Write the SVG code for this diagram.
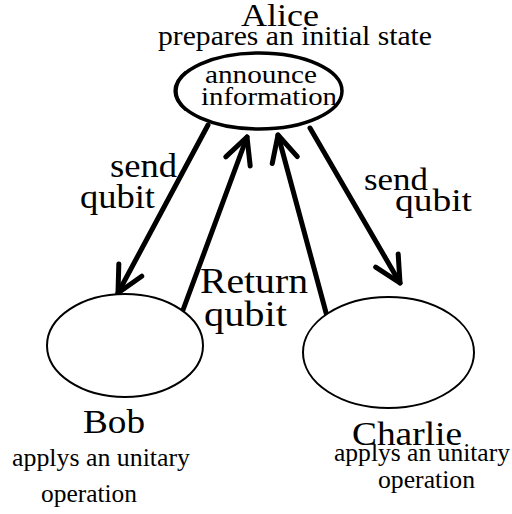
<svg xmlns="http://www.w3.org/2000/svg" width="512" height="514" viewBox="0 0 512 514">
  <style>
    text { font-family: "Liberation Serif", "Times New Roman", serif; fill: #000; }
    .node { fill: #fff; stroke: #000; }
    .conn { stroke: #000; stroke-width: 5; stroke-linecap: round; fill: none; marker-end: url(#head); }
  </style>
  <defs>
    <marker id="head" markerUnits="userSpaceOnUse" orient="auto" refX="0" refY="0" markerWidth="40" markerHeight="40" viewBox="-30 -20 40 40" overflow="visible">
      <path d="M-26,-13 L0,0 L-26,13" fill="none" stroke="#000" stroke-width="5" stroke-linecap="round" stroke-linejoin="round"/>
    </marker>
  </defs>
  <rect width="512" height="514" fill="#fff"/>

  <g id="connectors">
    <line class="conn" x1="208" y1="125" x2="118" y2="293"/>
    <line class="conn" x1="183" y1="310" x2="247" y2="137"/>
    <line class="conn" x1="328" y1="320" x2="278" y2="135"/>
    <line class="conn" x1="310" y1="128" x2="400" y2="283"/>
  </g>

  <g id="connector-labels">
    <text x="110" y="177" font-size="33" textLength="67" lengthAdjust="spacingAndGlyphs">send</text>
    <text x="80" y="208" font-size="33" textLength="75" lengthAdjust="spacingAndGlyphs">qubit</text>
    <text x="200" y="293" font-size="35" textLength="108" lengthAdjust="spacingAndGlyphs">Return</text>
    <text x="204" y="326" font-size="35" textLength="83" lengthAdjust="spacingAndGlyphs">qubit</text>
    <text x="364" y="190" font-size="32" textLength="64" lengthAdjust="spacingAndGlyphs">send</text>
    <text x="395" y="211" font-size="32" textLength="77" lengthAdjust="spacingAndGlyphs">qubit</text>
  </g>

  <g id="alice">
    <text x="241" y="26" font-size="32" textLength="78" lengthAdjust="spacingAndGlyphs">Alice</text>
    <text x="158" y="45" font-size="27" textLength="274" lengthAdjust="spacingAndGlyphs">prepares an initial state</text>
    <ellipse class="node" cx="259" cy="91" rx="83" ry="38" stroke-width="3.5"/>
    <path d="M186,72 A83,38 0 0 0 186,110" fill="none" stroke="#000" stroke-width="3"/>
    <text x="205" y="83" font-size="26" textLength="112" lengthAdjust="spacingAndGlyphs">announce</text>
    <text x="201" y="105" font-size="26" textLength="136" lengthAdjust="spacingAndGlyphs">information</text>
  </g>

  <g id="bob">
    <ellipse class="node" cx="125" cy="345.5" rx="78" ry="51.5" stroke-width="2"/>
    <text x="83" y="433" font-size="34" textLength="62" lengthAdjust="spacingAndGlyphs">Bob</text>
    <text x="12" y="466" font-size="25" textLength="178" lengthAdjust="spacingAndGlyphs">applys an unitary</text>
    <text x="41" y="502" font-size="25" textLength="96" lengthAdjust="spacingAndGlyphs">operation</text>
  </g>

  <g id="charlie">
    <ellipse class="node" cx="388.5" cy="352.5" rx="85.5" ry="55.5" stroke-width="2"/>
    <text x="352" y="445" font-size="34" textLength="110" lengthAdjust="spacingAndGlyphs">Charlie</text>
    <text x="334" y="461" font-size="25" textLength="176" lengthAdjust="spacingAndGlyphs">applys an unitary</text>
    <text x="378" y="488" font-size="25" textLength="97" lengthAdjust="spacingAndGlyphs">operation</text>
  </g>
</svg>
